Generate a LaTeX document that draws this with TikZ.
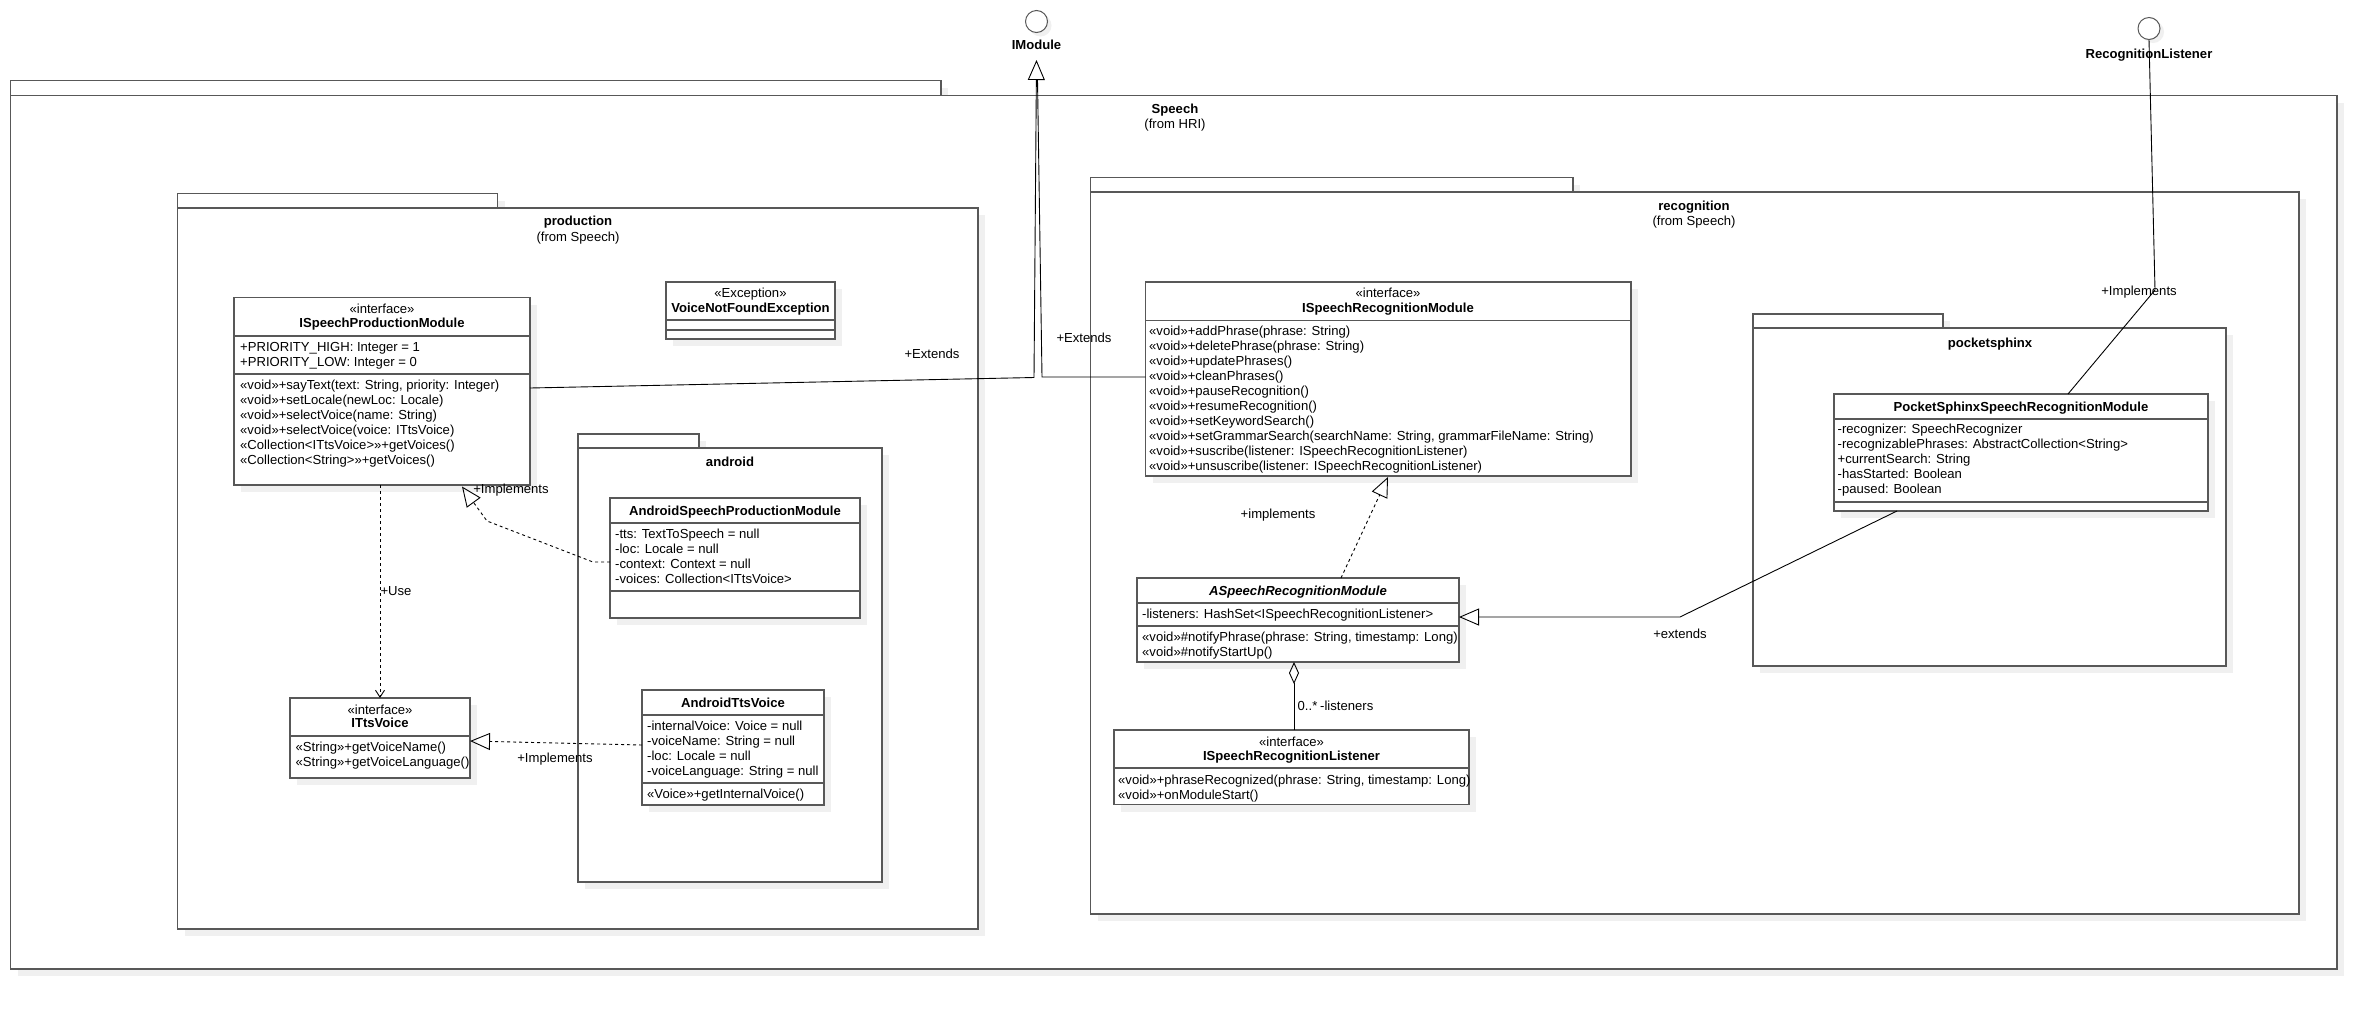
\documentclass[tikz,border=0pt]{standalone}
\usepackage{fontspec}
\setmainfont{Liberation Sans}
\usetikzlibrary{arrows.meta,calc}
\definecolor{boxc}{RGB}{88,88,88}
\definecolor{shadowc}{RGB}{240,240,240}

% class or package rectangle with its drop shadow: name, x1, y1, x2, y2
\newcommand{\umlbox}[5]{%
  \fill[shadowc] (#2+7,#3+7) rectangle (#4+7,#5+7);
  \node[boxnode, anchor=north west, minimum width={#4-#2}, minimum height={#5-#3}] (#1) at (#2,#3) {};
}
% package: name, x1, tab top, tab right, body top, x2, y2
\newcommand{\umlpkg}[7]{%
  \fill[shadowc] (#2+7,#3+7) rectangle (#4+7,#5+7);
  \fill[shadowc] (#2+7,#5+7) rectangle (#6+7,#7+7);
  \node[boxnode, anchor=north west, minimum width={#4-#2}, minimum height={#5-#3}] (#1-tab) at (#2,#3) {};
  \node[boxnode, anchor=north west, minimum width={#6-#2}, minimum height={#7-#5}] (#1) at (#2,#5) {};
}
% compartment divider across a class box
\newcommand{\hdiv}[2]{\draw[divline] (#1.west |- 0,#2) -- (#1.east |- 0,#2);}
% left aligned member rows, 15pt apart: prefix, x, first row y, list
\newcommand{\rows}[4]{\foreach \rw [count=\ri from 0] in {#4} {\node[txt] (#1-\ri) at (#2, #3+15*\ri) {\rw};}}

\begin{document}
\begin{tikzpicture}[x=1pt,y=-1pt,
  font=\fontsize{13.1}{15}\selectfont,
  boxnode/.style={draw=boxc, fill=white, line width=1.4pt, inner sep=0pt, outer sep=0pt},
  divline/.style={draw=boxc, line width=1.4pt},
  txt/.style={anchor=base west, inner sep=0pt, yshift=-4.4pt},
  ctxt/.style={anchor=base, inner sep=0pt, yshift=-4.4pt},
  btxt/.style={ctxt, font=\fontsize{13.1}{15}\selectfont\bfseries},
  conn/.style={draw=black, line width=0.9pt},
  dconn/.style={conn, dash pattern=on 3pt off 3pt},
  realize/.style={-{Triangle[open, length=20pt, width=17pt]}},
  usearrow/.style={-{Straight Barb[length=7pt, width=9pt]}},
  aggr/.style={-{Diamond[open, length=22pt, width=10pt]}},
  iface/.style={circle, draw=boxc, line width=1pt, fill=white, minimum size=22pt, inner sep=0pt},
]
\useasboundingbox (0,0) rectangle (2378,1010);
\fill[white] (0,0) rectangle (2378,1010);

% ---------- Speech package ----------
\umlpkg{speech}{10.6}{80.5}{941}{95.5}{2337}{969}
\node[btxt] (speech-nm) at (1175,109) {Speech};
\node[ctxt] (speech-fr) at (1175,124) {(from HRI)};

% ---------- production package ----------
\umlpkg{prod}{177.5}{193.5}{497.5}{208}{978}{929}
\node[btxt] (prod-nm) at (578,221) {production};
\node[ctxt] (prod-fr) at (578,237) {(from Speech)};

% ISpeechProductionModule
\umlbox{ispm}{234}{297.5}{530}{485}
\node[ctxt] (ispm-st) at (382,309) {«interface»};
\node[btxt] (ispm-nm) at (382,323) {ISpeechProductionModule};
\hdiv{ispm}{336}
\rows{ispm-a}{240}{347}{{+PRIORITY\_HIGH: Integer = 1},{+PRIORITY\_LOW: Integer = 0}}
\hdiv{ispm}{374}
\rows{ispm-o}{240}{385}{{«void»+sayText(text: String, priority: Integer)},{«void»+setLocale(newLoc: Locale)},{«void»+selectVoice(name: String)},{«void»+selectVoice(voice: ITtsVoice)},{«Collection<ITtsVoice>»+getVoices()},{«Collection<String>»+getVoices()}}

% VoiceNotFoundException
\umlbox{vnfe}{666}{282}{835}{339}
\node[ctxt] (vnfe-st) at (750.5,293) {«Exception»};
\node[btxt] (vnfe-nm) at (750.5,308) {VoiceNotFoundException};
\hdiv{vnfe}{320}
\hdiv{vnfe}{330}

% ITtsVoice
\umlbox{itts}{290}{698}{470}{778}
\node[ctxt] (itts-st) at (380,710) {«interface»};
\node[btxt] (itts-nm) at (380,723.5) {ITtsVoice};
\hdiv{itts}{736}
\rows{itts-o}{295.5}{747}{{«String»+getVoiceName()},{«String»+getVoiceLanguage()}}

% ---------- android package ----------
\umlpkg{andr}{578}{434}{699}{448}{882}{882}
\node[btxt] (andr-nm) at (730,462) {android};

% AndroidSpeechProductionModule
\umlbox{aspm}{610}{498}{860}{618}
\node[btxt] (aspm-nm) at (735,511) {AndroidSpeechProductionModule};
\hdiv{aspm}{523}
\rows{aspm-a}{615}{534}{{-tts: TextToSpeech = null},{-loc: Locale = null},{-context: Context = null},{-voices: Collection<ITtsVoice>}}
\hdiv{aspm}{591}

% AndroidTtsVoice
\umlbox{atv}{642}{690}{824}{805}
\node[btxt] (atv-nm) at (733,703) {AndroidTtsVoice};
\hdiv{atv}{715}
\rows{atv-a}{647}{726}{{-internalVoice: Voice = null},{-voiceName: String = null},{-loc: Locale = null},{-voiceLanguage: String = null}}
\hdiv{atv}{783}
\rows{atv-o}{647}{794}{{«Voice»+getInternalVoice()}}

% ---------- recognition package ----------
\umlpkg{reco}{1090.5}{177.5}{1573}{192}{2299}{914}
\node[btxt] (reco-nm) at (1694,206) {recognition};
\node[ctxt] (reco-fr) at (1694,221) {(from Speech)};

% ISpeechRecognitionModule
\umlbox{isrm}{1145.5}{282}{1631}{476}
\node[ctxt] (isrm-st) at (1388,293) {«interface»};
\node[btxt] (isrm-nm) at (1388,308) {ISpeechRecognitionModule};
\hdiv{isrm}{320.5}
\rows{isrm-o}{1149}{331.5}{{«void»+addPhrase(phrase: String)},{«void»+deletePhrase(phrase: String)},{«void»+updatePhrases()},{«void»+cleanPhrases()},{«void»+pauseRecognition()},{«void»+resumeRecognition()},{«void»+setKeywordSearch()},{«void»+setGrammarSearch(searchName: String, grammarFileName: String)},{«void»+suscribe(listener: ISpeechRecognitionListener)},{«void»+unsuscribe(listener: ISpeechRecognitionListener)}}

% ASpeechRecognitionModule
\umlbox{asr}{1137}{578}{1459}{662}
\node[ctxt, font=\fontsize{13.1}{15}\selectfont\bfseries\itshape] (asr-nm) at (1298,591) {ASpeechRecognitionModule};
\hdiv{asr}{603}
\rows{asr-a}{1142}{614}{{-listeners: HashSet<ISpeechRecognitionListener>}}
\hdiv{asr}{626}
\rows{asr-o}{1142}{637.5}{{«void»\#notifyPhrase(phrase: String, timestamp: Long)},{«void»\#notifyStartUp()}}

% ISpeechRecognitionListener
\umlbox{isrl}{1114}{730}{1469}{804.5}
\node[ctxt] (isrl-st) at (1291.5,742) {«interface»};
\node[btxt] (isrl-nm) at (1291.5,756) {ISpeechRecognitionListener};
\hdiv{isrl}{768}
\rows{isrl-o}{1118}{780}{{«void»+phraseRecognized(phrase: String, timestamp: Long)},{«void»+onModuleStart()}}

% ---------- pocketsphinx package ----------
\umlpkg{ps}{1753}{314}{1943}{328}{2226}{666}
\node[btxt] (ps-nm) at (1990,343) {pocketsphinx};

% PocketSphinxSpeechRecognitionModule
\umlbox{psr}{1834}{394}{2208}{511}
\node[btxt] (psr-nm) at (2021,407) {PocketSphinxSpeechRecognitionModule};
\hdiv{psr}{419}
\rows{psr-a}{1837.5}{429}{{-recognizer: SpeechRecognizer},{-recognizablePhrases: AbstractCollection<String>},{+currentSearch: String},{-hasStarted: Boolean},{-paused: Boolean}}
\hdiv{psr}{502}

% ---------- external interfaces ----------
\fill[shadowc] (1040.5,25.5) circle (11);
\node[iface] (imod) at (1036.5,21.5) {};
\node[btxt] (imod-nm) at (1036.5,45.5) {IModule};
\fill[shadowc] (2153,32) circle (11);
\node[iface] (rl) at (2149,28.5) {};
\node[btxt] (rl-nm) at (2149,54) {RecognitionListener};

% ---------- connectors ----------
\coordinate (imtip) at (1036.5,60);
\draw[conn, realize] (ispm.east |- 0,388) -- (1034,377.5) -- (imtip);
\draw[conn] (isrm.west |- 0,377) -- (1042,377) -- (1037.5,80);
\node[ctxt] (ext1) at (932,354) {+Extends};
\node[ctxt] (ext2) at (1084,338) {+Extends};

\draw[dconn, usearrow] (ispm.south -| 380,0) -- (itts.north -| 380,0);
\node[ctxt] (use) at (396,591) {+Use};

\draw[dconn, realize] (aspm.west |- 0,562) -- (593,562) -- (487,521) -- (462,486.5);
\node[ctxt] (impl1) at (511,489) {+Implements};

\draw[dconn, realize] (atv.west |- 0,745) -- (itts.east |- 0,741);
\node[ctxt] (impl2) at (555,758) {+Implements};

\draw[dconn, realize] (asr.north -| 1341,0) -- (1388,477);
\node[ctxt] (impl3) at (1278,514) {+implements};

\draw[conn, aggr] (isrl.north -| 1294,0) -- (asr.south -| 1294,0);
\node[txt] (mult) at (1297.5,706) {0..*};
\node[txt] (role) at (1320,706) {-listeners};

\draw[conn, realize] (psr.south -| 1897,0) -- (1680,617) -- (asr.east |- 0,617);
\node[ctxt] (ext3) at (1680,634) {+extends};

\draw[conn] (psr.north -| 2068,0) -- (2155,290) -- (rl.south);
\node[ctxt] (impl4) at (2139,291) {+Implements};
\end{tikzpicture}
\end{document}
